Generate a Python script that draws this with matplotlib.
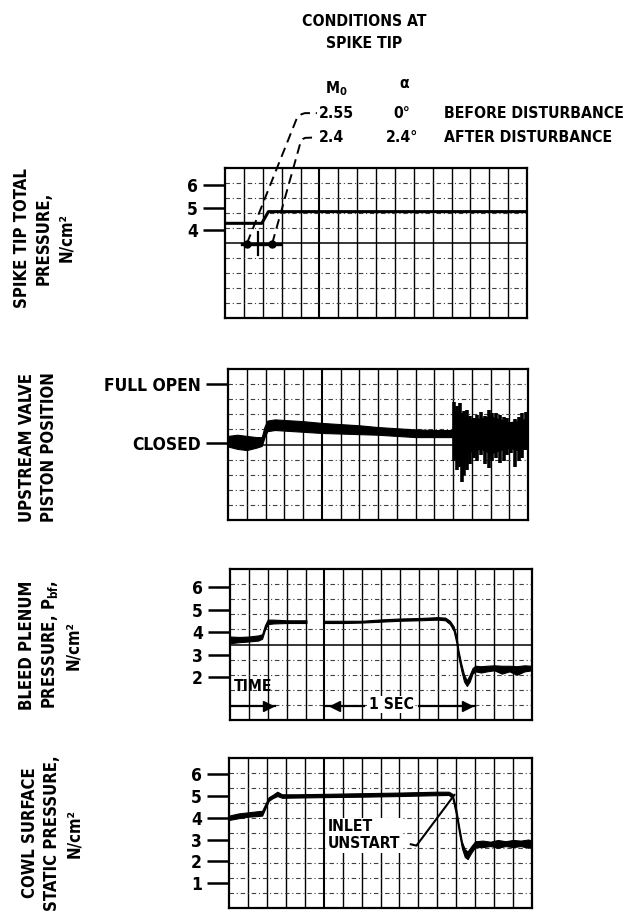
import numpy as np
import matplotlib.pyplot as plt

W, H = 631, 919

# time in chart divisions (16 divisions shown, 8 divisions = 1 sec)
n_div = 16

# spike tip total pressure, N/cm^2
spike_t = [0.0, 1.95, 2.3, 16.0]
spike_p = [4.3, 4.3, 4.82, 4.82]
spike_ref_t = [0.9, 2.9]
spike_ref_p = [3.4, 3.4]
event_t = [1.16, 2.5]
event_p = [3.4, 3.4]
leader1_t = [1.16, 3.81, 4.05, 4.23, 4.87]
leader1_p = [3.4, 8.98, 9.15, 9.2, 9.2]
leader2_t = [2.5, 4.0, 4.13, 4.25, 4.87]
leader2_p = [3.4, 7.9, 8.05, 8.1, 8.12]

# upstream valve piston position (0 = closed, 1 = full open)
valve_t = [0, 0.5, 1.0, 1.5, 1.8, 1.95, 2.1, 2.5, 3, 4, 5, 6, 7, 8, 9, 10, 11, 12.0]
valve_hi = [0.12, 0.14, 0.12, 0.1, 0.1, 0.28, 0.38, 0.4, 0.39, 0.37, 0.34, 0.32, 0.3, 0.27, 0.25, 0.23, 0.22, 0.22]
valve_lo = [-0.06, -0.1, -0.12, -0.08, -0.05, 0.1, 0.2, 0.22, 0.21, 0.19, 0.17, 0.16, 0.15, 0.14, 0.12, 0.1, 0.1, 0.1]
valve_core_t = [12.0, 12.3, 12.6, 13.0, 13.5, 14.0, 14.5, 15.0, 15.5, 16.0]
valve_core_hi = [0.55, 0.5, 0.45, 0.4, 0.42, 0.45, 0.4, 0.35, 0.38, 0.42]
valve_core_lo = [-0.2, -0.3, -0.3, -0.12, -0.1, -0.18, -0.12, -0.08, -0.12, -0.08]
valve_spike_t = [12.05, 12.2, 12.35, 12.5, 12.6, 12.75, 12.9, 13.1, 13.3, 13.5, 13.7,
                 13.9, 14.1, 14.3, 14.5, 14.7, 14.9, 15.1, 15.3, 15.5, 15.7, 15.9]
valve_spike_hi = [0.7, 0.62, 0.68, 0.5, 0.55, 0.56, 0.45, 0.42, 0.48, 0.53, 0.45,
                  0.56, 0.5, 0.5, 0.47, 0.44, 0.42, 0.36, 0.4, 0.44, 0.5, 0.52]
valve_spike_lo = [-0.3, -0.45, -0.4, -0.66, -0.55, -0.46, -0.35, -0.25, -0.3, -0.2, -0.35,
                  -0.42, -0.3, -0.25, -0.34, -0.3, -0.2, -0.17, -0.4, -0.3, -0.25, -0.12]

# bleed plenum pressure, N/cm^2 (trace has a gap)
bleed_t1 = [0, 0.5, 1.0, 1.5, 1.7, 1.85, 2.0, 2.3, 3.0, 3.5, 4.05]
bleed_hi1 = [3.8, 3.78, 3.8, 3.85, 3.9, 4.3, 4.55, 4.55, 4.52, 4.52, 4.52]
bleed_lo1 = [3.5, 3.55, 3.58, 3.62, 3.7, 4.1, 4.35, 4.38, 4.4, 4.4, 4.4]
bleed_t2 = [4.95, 6, 7, 8, 9, 10, 11, 11.4, 11.65, 11.85, 12.0, 12.1, 12.25, 12.4, 12.55,
            12.7, 12.85, 13.0, 13.3, 13.6, 14, 14.4, 14.8, 15.2, 15.6, 16]
bleed_hi2 = [4.5, 4.5, 4.5, 4.56, 4.6, 4.62, 4.66, 4.64, 4.5, 4.25, 3.8, 3.2, 2.6, 2.1, 1.85,
             2.1, 2.4, 2.5, 2.48, 2.5, 2.52, 2.5, 2.5, 2.48, 2.52, 2.5]
bleed_lo2 = [4.4, 4.4, 4.42, 4.46, 4.5, 4.52, 4.55, 4.52, 4.35, 4.05, 3.5, 2.9, 2.3, 1.8, 1.6,
             1.8, 2.15, 2.25, 2.2, 2.25, 2.3, 2.15, 2.25, 2.1, 2.25, 2.3]

# cowl surface static pressure, N/cm^2
cowl_t = [0, 0.5, 1.0, 1.5, 1.75, 1.9, 2.1, 2.3, 2.55, 2.8, 3.5, 5, 7, 9, 11, 11.6, 11.8,
          12.0, 12.15, 12.3, 12.45, 12.6, 12.8, 13.0, 13.4, 13.8, 14.2, 14.6, 15.0, 15.4, 15.8, 16]
cowl_hi = [4.1, 4.2, 4.25, 4.3, 4.32, 4.6, 4.95, 5.05, 5.2, 5.08, 5.08, 5.1, 5.13, 5.16, 5.2, 5.2, 5.1,
           4.4, 3.6, 2.9, 2.55, 2.45, 2.7, 2.92, 2.95, 2.9, 2.98, 2.92, 2.98, 2.95, 3.0, 2.95]
cowl_lo = [3.9, 3.98, 4.05, 4.08, 4.1, 4.4, 4.78, 4.9, 5.0, 4.92, 4.93, 4.95, 4.97, 5.0, 5.04, 5.05, 4.9,
           4.1, 3.3, 2.6, 2.2, 2.1, 2.4, 2.65, 2.65, 2.7, 2.62, 2.7, 2.65, 2.7, 2.62, 2.7]
unstart_t = [9.6, 9.9, 11.9]
unstart_p = [2.78, 2.72, 5.05]

FONT = dict(family='DejaVu Sans', weight='bold', stretch='condensed')
HEAD = 11.3


def px(x, y):
    return x / W, 1 - y / H


def make_axes(l, t, r, b, ylim, solid_mid=True):
    ax = fig.add_axes([l / W, 1 - b / H, (r - l) / W, (b - t) / H])
    ax.set_xlim(0, n_div)
    ax.set_ylim(*ylim)
    for i in range(1, n_div):
        ax.axvline(i, color='black', lw=1.5 if i == 5 else 1.0, zorder=1)
    rows = np.linspace(ylim[0], ylim[1], 11)
    for j in range(1, 10):
        if solid_mid and j == 5:
            ax.axhline(rows[j], color='black', lw=1.1, zorder=1)
        else:
            ax.axhline(rows[j], color='0.25', lw=0.8, ls=(0, (4, 2.5, 1, 2.5)), zorder=1)
    for s in ax.spines.values():
        s.set_linewidth(1.6)
    ax.set_xticks([])
    ax.tick_params(axis='y', length=15.5, width=1.8, pad=4, direction='out')
    return ax


def side_label(x, y, s):
    fig.text(*px(x, y), s, rotation=90, ha='center', va='center', ma='center',
             fontsize=12, linespacing=1.3, **FONT)


fig = plt.figure(figsize=(W / 100, H / 100), dpi=100)

# header
fig.text(*px(364, 22), 'CONDITIONS AT', ha='center', va='center', fontsize=HEAD, **FONT)
fig.text(*px(364, 43), 'SPIKE TIP', ha='center', va='center', fontsize=HEAD, **FONT)
fig.text(*px(336, 89), 'M$\\mathregular{_0}$', ha='center', va='center', fontsize=HEAD, **FONT)
fig.text(*px(404, 84), 'α', ha='center', va='center', fontsize=HEAD, **FONT)
fig.text(*px(319, 113), '2.55', ha='left', va='center', fontsize=HEAD, **FONT)
fig.text(*px(319, 137), '2.4', ha='left', va='center', fontsize=HEAD, **FONT)
fig.text(*px(402, 113), '0°', ha='center', va='center', fontsize=HEAD, **FONT)
fig.text(*px(402, 137), '2.4°', ha='center', va='center', fontsize=HEAD, **FONT)
fig.text(*px(444, 113), 'BEFORE DISTURBANCE', ha='left', va='center', fontsize=HEAD, **FONT)
fig.text(*px(444, 137), 'AFTER DISTURBANCE', ha='left', va='center', fontsize=HEAD, **FONT)

# panel 1: spike tip total pressure
ax1 = make_axes(225, 168, 527, 318, (0.09, 6.76))
ax1.set_yticks([4, 5, 6], ['4', '5', '6'])
ax1.plot(spike_t, spike_p, color='black', lw=2.2, zorder=3)
ax1.plot(spike_ref_t, spike_ref_p, color='black', lw=2.4, zorder=3)
ax1.plot(event_t, event_p, 'o', color='black', ms=5, zorder=4)
ax1.plot([1.75, 1.75], [2.9, 3.9], color='black', lw=1.6, zorder=3)
for lt, lp in [(leader1_t, leader1_p), (leader2_t, leader2_p)]:
    ax1.plot(lt, lp, color='black', lw=1.4, ls=(0, (5, 3)), clip_on=False, zorder=4)
side_label(44, 238, 'SPIKE TIP TOTAL\nPRESSURE,\nN/cm²')

# panel 2: upstream valve piston position
ax2 = make_axes(228, 369, 528, 520, (-1.305, 1.254))
ax2.set_yticks([0, 1], ['CLOSED', 'FULL OPEN'])
ax2.fill_between(valve_t, valve_lo, valve_hi, color='black', lw=0.8, zorder=3)
ax2.fill_between(valve_core_t, valve_core_lo, valve_core_hi, color='black', lw=0.8, zorder=3)
ax2.vlines(valve_spike_t, valve_spike_lo, valve_spike_hi, color='black', lw=2.6, zorder=3)
side_label(38, 447, 'UPSTREAM VALVE\nPISTON POSITION')

# panel 3: bleed plenum pressure
ax3 = make_axes(230, 569, 532, 720, (0.09, 6.8))
ax3.set_yticks([2, 3, 4, 5, 6], ['2', '3', '4', '5', '6'])
ax3.fill_between(bleed_t1, bleed_lo1, bleed_hi1, color='black', lw=0.8, zorder=3)
ax3.fill_between(bleed_t2, bleed_lo2, bleed_hi2, color='black', lw=0.8, zorder=3)
ax3.text(0.2, 1.56, 'TIME', ha='left', va='center', fontsize=HEAD, zorder=5, **FONT)
ax3.plot([0, 2.4], [0.71, 0.71], color='black', lw=1.6, zorder=4)
ax3.plot([2.0], [0.71], '>', color='black', ms=7, zorder=4)
ax3.plot([5.0, 7.1], [0.71, 0.71], color='black', lw=1.6, zorder=4)
ax3.plot([5.55], [0.71], '<', color='black', ms=7, zorder=4)
ax3.plot([10.0, 13.0], [0.71, 0.71], color='black', lw=1.6, zorder=4)
ax3.plot([12.55], [0.71], '>', color='black', ms=7, zorder=4)
ax3.text(8.55, 0.78, '1 SEC', ha='center', va='center', fontsize=HEAD, zorder=5,
         bbox=dict(fc='white', ec='none', pad=1), **FONT)
side_label(50, 645, 'BLEED PLENUM\nPRESSURE, P$\\mathregular{_{bf}}$,\nN/cm²')

# panel 4: cowl surface static pressure
ax4 = make_axes(229, 758, 532, 908, (-0.15, 6.75), solid_mid=False)
ax4.set_yticks([1, 2, 3, 4, 5, 6], ['1', '2', '3', '4', '5', '6'])
ax4.fill_between(cowl_t, cowl_lo, cowl_hi, color='black', lw=0.8, zorder=3)
ax4.text(5.2, 3.2, 'INLET\nUNSTART', ha='left', va='center', fontsize=HEAD,
         linespacing=1.2, zorder=5, bbox=dict(fc='white', ec='none', pad=1), **FONT)
ax4.plot(unstart_t, unstart_p, color='black', lw=1.5, zorder=4)
side_label(52, 833, 'COWL SURFACE\nSTATIC PRESSURE,\nN/cm²')

for ax in (ax1, ax2, ax3, ax4):
    for lab in ax.get_yticklabels():
        lab.set_fontsize(12.5)
        lab.set_fontweight('bold')
        lab.set_fontstretch('condensed')

fig.savefig('out.png', dpi=100)
